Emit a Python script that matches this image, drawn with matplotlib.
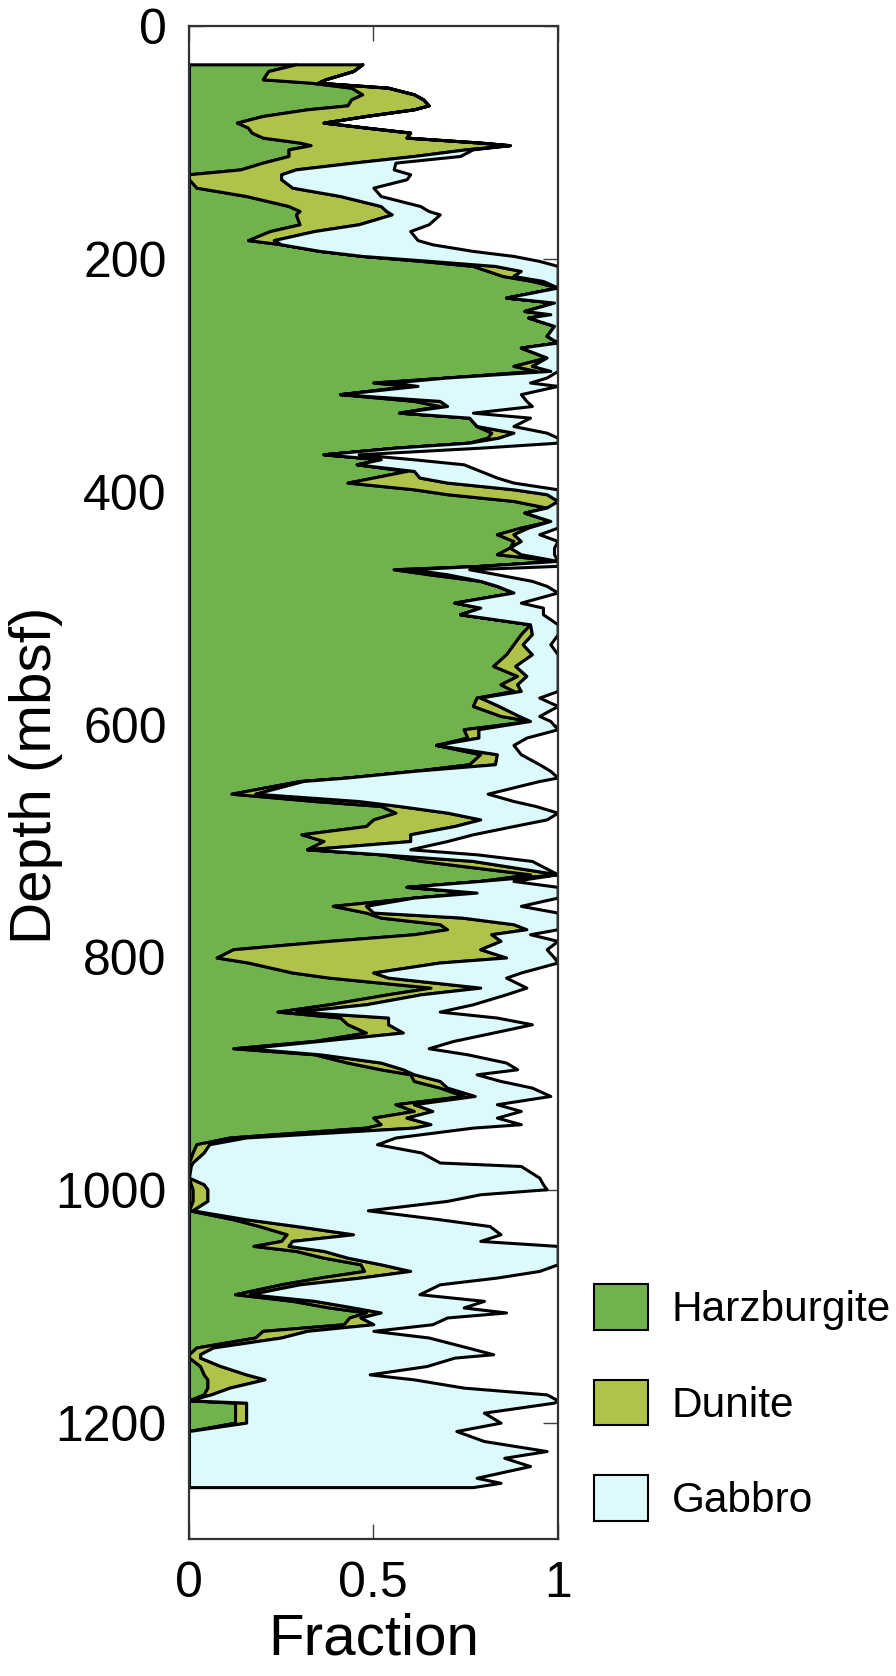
import numpy as np
import matplotlib
matplotlib.use("Agg")
import matplotlib.pyplot as plt
from matplotlib.patches import Patch

plt.rcParams['font.family'] = ['Liberation Sans', 'DejaVu Sans']

# ---- data (depth in mbsf, lithology fractions) ----
depth = [32.5, 38.3, 45.4, 48.3, 52.6, 58.3, 62.6, 67.8, 71.2, 76.9, 82.6, 86.9, 91.2, 95.5, 99.8,
         102.0, 105.6, 111.3, 117.0, 122.8, 127.0, 131.3, 138.5, 145.7, 154.3,
         158.6, 161.5, 170.0, 175.8, 183.6, 187.2, 192.9, 197.2, 201.5, 205.8, 210.1, 214.4, 218.7,
         224.4, 233.0, 237.3, 244.5, 247.3, 250.2, 257.3, 265.9, 271.6, 276.0, 284.5, 291.7, 296.0,
         301.7, 306.0, 308.9, 316.0, 321.8, 326.2, 331.9, 336.2, 343.4, 349.1, 353.4, 357.7, 362.0,
         367.7, 372.0, 376.3, 382.0, 387.7, 392.0, 397.8, 402.0, 407.8, 413.5, 417.8, 425.0, 430.7,
         436.4, 442.2, 447.9, 453.6, 459.3, 463.6, 466.5, 470.8, 476.5, 480.8, 486.5, 495.2, 499.5,
         505.2, 513.8, 522.4, 531.0, 539.6, 549.6, 558.2, 565.4, 571.1, 576.8, 584.0, 592.6, 596.9,
         604.0, 611.2, 617.5, 625.5, 634.1, 639.8, 645.5, 648.5, 659.4, 665.7, 670.0, 675.7, 681.5,
         687.2, 694.3, 700.1, 707.2, 711.5, 717.2, 728.7, 734.4, 739.5, 744.4, 748.7, 755.8, 761.6,
         765.9, 771.6, 775.9, 780.2, 785.9, 793.1, 800.2, 804.5, 813.1, 817.5, 826.1, 831.8, 840.4,
         846.7, 851.8, 857.6, 864.7, 871.9, 878.2, 883.4, 890.5, 896.3, 900.6, 906.3, 912.0, 919.2,
         926.3, 932.1, 937.8, 943.5, 946.4, 954.9, 960.7, 967.8, 976.4, 979.4, 989.4, 995.1, 999.4,
         1003.7, 1009.4, 1017.5, 1025.2, 1031.0, 1038.1, 1043.8, 1048.1, 1052.4, 1058.2, 1063.9,
         1069.6, 1075.3, 1081.1, 1089.6, 1095.3, 1101.0, 1105.3, 1109.6, 1115.4, 1121.1, 1126.8,
         1135.4, 1141.2, 1144.1, 1151.3, 1158.5, 1162.8, 1169.9, 1175.7, 1180.8, 1182.8, 1191.4,
         1200.0, 1207.2, 1215.8, 1224.4, 1230.2, 1237.3, 1247.4, 1251.7, 1255.4]

harzburgite = [.29, .215, .20, .33, .44, .47, .44, .43, .32, .20, .13, .16, .17, .20, .30,
               .33, .27, .27, .20, .14, 0, 0, .02, .155, .27,
               .30, .29, .30, .22, .16, .25, .355, .47, .63, .77, .81, .85, .93,
               1, .86, .99, .91, .98, .92, .99, .97, 1, .90, .97, .88, .94,
               .70, .50, .60, .41, .61, .68, .57, .76, .78, .82, .81, .76, .56,
               .365, .52, .455, .59, .50, .43, .61, .70, .88, .97, .91, .98, .90,
               .835, .88, .87, .835, 1, .79, .555, .65, .79, .835, .88, .72, .79,
               .735, .925, .90, .88, .86, .825, .89, .845, .88, .78, .77, .845, .925,
               .745, .755, .67, .79, .76, .61, .43, .30, .115, .34, .52, .56, .50,
               .48, .305, .365, .32, .52, .63, .925, .79, .59, .77, .61, .39, .48,
               .52, .68, .70, .61, .38, .12, .075, .16, .28, .38, .655, .54, .38,
               .24, .41, .43, .48, .34, .12, .34, .43, .52, .60, .61, .68, .745,
               .56, .61, .50, .52, .48, .11, .02, .01, 0, 0, 0, .005, .01,
               .01, .01, 0, .12, .19, .265, .25, .175, .29, .365, .465,
               .475, .355, .25, .125, .28, .38, .48, .435, .42, .20, .18,
               .02, 0, 0, .03, .04, .05, .05, .04, 0, .125, .125,
               .125, 0, 0, 0, 0, 0, 0, 0, 0]

dunite = [.18, .23, .17, .02, .10, .14, .195, .22, .29, .28, .235, .32, .43, .39, .49,
          .54, .48, .34, .245, .15, .25, .25, .26, .255, .25,
          .235, .26, .16, .12, .07, 0, 0, 0, .025, .06, .09, .03, .03,
          0, 0, 0, 0, 0, 0, 0, 0, 0, 0, 0, .05, .04,
          0, .05, .02, 0, .07, .02, 0, 0, 0, .06, .03, 0, 0,
          0, 0, 0, .02, .125, .27, .27, .27, .12, 0, 0, 0, .02,
          .045, .02, 0, .065, 0, 0, .045, .05, 0, 0, 0, 0, 0,
          0, 0, .03, .025, .07, .06, .025, .045, .02, .01, .07, .05, 0,
          .04, .03, 0, .045, .07, 0, 0, .01, .065, .12, .05, .14, .29,
          .24, .295, .235, 0, 0, .14, .075, 0, 0, .01, 0, .09, .02,
          .22, .20, .215, .21, .465, .67, .785, .52, .22, .16, .135, .09, .10,
          .05, .13, .11, .10, .015, .035, .015, .09, .06, .01, .07, .02, .03,
          .05, .05, .09, .135, .13, .045, .035, .03, .01, .005, 0, .035, .04,
          .04, .04, .01, .035, .10, .18, .03, .095, .075, .065, .055,
          .125, .11, .05, .04, .06, .065, .04, .03, .08, .12, .07,
          .045, .03, .03, .055, .115, .155, .06, .02, 0, .03, .03,
          .03, 0, 0, 0, 0, 0, 0, 0, 0]

gabbro = [0, 0, 0, 0, 0, 0, 0, 0, 0, 0, 0, 0, 0, 0, 0,
          0, .02, .125, .115, .265, .35, .34, .22, .11, .107,
          .115, .13, .19, .26, .39, .41, .415, .41, .295, .17, .10, .12, .04,
          0, .14, .01, .09, .02, .08, .01, .03, 0, .10, .03, .07, .02,
          .27, .375, .38, .49, .235, .23, .20, .165, .10, .09, .16, .24, .23,
          .095, .09, .29, .18, .21, .18, .12, .03, 0, .03, .09, .02, .08,
          .07, .10, .12, .09, 0, .21, .16, .135, .14, .135, .12, .18, .17,
          .225, .075, .07, .075, .07, .115, .085, .11, .10, .16, .16, .055, .055,
          .215, .13, .21, .065, .12, .37, .57, .64, .63, .42, .37, .30, .18,
          .16, .17, .10, .28, .26, .16, 0, .09, .41, .22, .39, .42, .50,
          .26, .12, .085, .105, .155, .18, .13, .32, .40, .32, .125, .23, .29,
          .39, .295, .39, .245, .362, .495, .40, .34, .31, .17, .165, .23, .205,
          .225, .24, .245, .245, .16, .405, .455, .59, .67, .895, .95, .92, .92,
          .74, .65, .475, .525, .525, .40, .51, .73, .635, .57, .48,
          .35, .37, .38, .46, .46, .30, .34, .235, .16, .18, .40,
          .69, .795, .69, .56, .335, .405, .635, .91, 1, .835, .645,
          .69, .725, .80, .97, .855, .925, .78, .845, .77]

labels = ["Harzburgite", "Dunite", "Gabbro"]
colors = ["#70B24C", "#B0C24A", "#DCF9FC"]
xticks = [0, 0.5, 1]
xticklabels = ["0", "0.5", "1"]
yticks = [0, 200, 400, 600, 800, 1000, 1200]

# ---- figure ----
fig = plt.figure(figsize=(8.96, 16.76), dpi=100)
ax = fig.add_axes([189 / 896, 1 - 1539 / 1676, (557.7 - 189) / 896, (1539 - 26.5) / 1676])

d = np.array(depth)
layers = [np.array(harzburgite), np.array(dunite), np.array(gabbro)]
left = np.zeros_like(d)
for vals, col in zip(layers, colors):
    right = left + vals
    ax.fill_betweenx(d, left, right, facecolor=col, edgecolor="black", linewidth=2.2, zorder=2)
    left = right

ax.set_xlim(0, 1)
ax.set_ylim(1300, 0)
ax.set_xticks(xticks)
ax.set_xticklabels(xticklabels)
ax.set_yticks(yticks)
ax.set_axisbelow(True)
ax.tick_params(direction="in", length=11, width=1, color="#404040", labelsize=36, pad=16,
               top=True, right=True)
for s in ax.spines.values():
    s.set_color("#333333")
    s.set_linewidth(1.6)
    s.set_zorder(3)

ax.set_xlabel("Fraction", fontsize=42, labelpad=4)
ax.set_ylabel("Depth (mbsf)", fontsize=42)
ax.yaxis.set_label_coords(-0.342, 0.505)

handles = [Patch(facecolor=c, edgecolor="black", linewidth=1.5) for c in colors]
fig.legend(handles, labels, loc="upper left", bbox_to_anchor=(594 / 896, 1 - 1284 / 1676),
           frameon=False, fontsize=30.5, handlelength=1.28, handleheight=1.28,
           handletextpad=0.55, labelspacing=1.17, borderpad=0, borderaxespad=0)

fig.savefig("out.png", dpi=100, facecolor="white")
